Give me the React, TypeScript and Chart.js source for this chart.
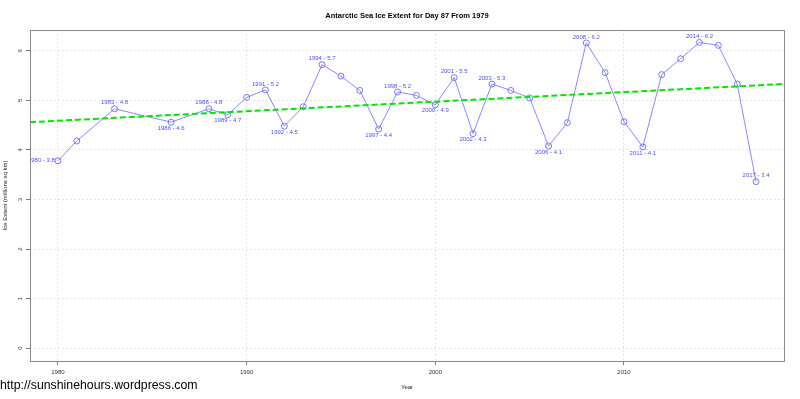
import React, { useEffect, useRef } from "react";
import { Chart, registerables } from "chart.js";

Chart.register(...registerables);

const TITLE = "Antarctic Sea Ice Extent for Day 87 From 1979";
const X_TITLE = "Year";
const Y_TITLE = "Ice Extent (millions sq km)";
const FOOTER = "http://sunshinehours.wordpress.com";

const years = [
  1980, 1981, 1983, 1986, 1988, 1989, 1990, 1991, 1992, 1993, 1994, 1995, 1996,
  1997, 1998, 1999, 2000, 2001, 2002, 2003, 2004, 2005, 2006, 2007, 2008, 2009,
  2010, 2011, 2012, 2013, 2014, 2015, 2016, 2017,
];
const extent = [
  3.78, 4.18, 4.83, 4.56, 4.83, 4.71, 5.06, 5.21, 4.48, 4.87, 5.72, 5.49, 5.2,
  4.42, 5.17, 5.1, 4.91, 5.46, 4.33, 5.33, 5.2, 5.05, 4.08, 4.55, 6.16, 5.56,
  4.57, 4.06, 5.52, 5.84, 6.17, 6.11, 5.33, 3.36,
];
const labelYears = [
  1980, 1983, 1986, 1988, 1989, 1991, 1992, 1994, 1997, 1998, 2000, 2001, 2002,
  2003, 2006, 2008, 2011, 2014, 2017,
];
const labelSides = [
  "left", "above", "below", "above", "below", "above", "below", "above", "below",
  "above", "below", "above", "below", "above", "below", "above", "below", "above", "above",
];
const xTicks = [1980, 1990, 2000, 2010];
const yTicks = [0, 1, 2, 3, 4, 5, 6];
const trendYears = [1978.52, 2018.48];
const trendValues = [4.56, 5.33];
const xMin = 1978.52;
const xMax = 2018.48;
const yMin = -0.26;
const yMax = 6.42;

const FONT = "'Liberation Sans', Arial, sans-serif";

const overlay = {
  id: "overlay",
  afterDatasetsDraw(chart: any) {
    const { ctx, chartArea } = chart;
    const xs = chart.scales.x;
    const ys = chart.scales.y;
    ctx.save();
    // box
    ctx.strokeStyle = "#8a8a8a";
    ctx.lineWidth = 1;
    ctx.strokeRect(
      Math.round(chartArea.left) + 0.5,
      Math.round(chartArea.top) + 0.5,
      Math.round(chartArea.right - chartArea.left),
      Math.round(chartArea.bottom - chartArea.top)
    );
    // data labels, clipped
    ctx.save();
    ctx.beginPath();
    ctx.rect(chartArea.left, chartArea.top, chartArea.right - chartArea.left, chartArea.bottom - chartArea.top);
    ctx.clip();
    ctx.font = `6px ${FONT}`;
    ctx.fillStyle = "#4f4fff";
    labelYears.forEach((yr, i) => {
      const idx = years.indexOf(yr);
      if (idx < 0) return;
      const v = extent[idx];
      const px = xs.getPixelForValue(yr);
      const py = ys.getPixelForValue(v);
      const text = `${yr} - ${v.toFixed(1)}`;
      const side = labelSides[i];
      ctx.textBaseline = "middle";
      if (side === "left") {
        ctx.textAlign = "right";
        ctx.fillText(text, px - 3, py);
      } else if (side === "above") {
        ctx.textAlign = "center";
        ctx.fillText(text, px, py - 6);
      } else {
        ctx.textAlign = "center";
        ctx.fillText(text, px, py + 6);
      }
    });
    ctx.restore();
    // y tick labels rotated
    ctx.fillStyle = "#333";
    ctx.font = `6px ${FONT}`;
    ys.ticks.forEach((t: any) => {
      const py = ys.getPixelForValue(t.value);
      ctx.save();
      ctx.translate(20, py);
      ctx.rotate(-Math.PI / 2);
      ctx.textAlign = "center";
      ctx.textBaseline = "middle";
      ctx.fillText(String(t.value), 0, 0);
      ctx.restore();
    });
    // y title
    ctx.save();
    ctx.translate(5, (chartArea.top + chartArea.bottom) / 2);
    ctx.rotate(-Math.PI / 2);
    ctx.textAlign = "center";
    ctx.textBaseline = "middle";
    ctx.fillStyle = "#222";
    ctx.fillText(Y_TITLE, 0, 0);
    ctx.restore();
    // x title
    ctx.textAlign = "center";
    ctx.textBaseline = "middle";
    ctx.fillStyle = "#222";
    ctx.fillText(X_TITLE, (chartArea.left + chartArea.right) / 2, 387.5);
    // title
    ctx.font = `bold 7.5px ${FONT}`;
    ctx.fillStyle = "#000";
    ctx.fillText(TITLE, (chartArea.left + chartArea.right) / 2, 16);
    // footer
    ctx.font = `12.3px ${FONT}`;
    ctx.textAlign = "left";
    ctx.textBaseline = "alphabetic";
    ctx.fillText(FOOTER, 0, 389);
    ctx.restore();
  },
};

export default function App() {
  const ref = useRef<HTMLCanvasElement | null>(null);
  useEffect(() => {
    document.body.style.margin = "0";
    const canvas = ref.current!;
    const chart = new Chart(canvas, {
      type: "line",
      data: {
        datasets: [
          {
            label: "trend",
            data: trendYears.map((x, i) => ({ x, y: trendValues[i] })),
            borderColor: "#00e600",
            borderWidth: 2,
            borderDash: [6, 3],
            pointRadius: 0,
            fill: false,
          },
          {
            label: "extent",
            data: years.map((x, i) => ({ x, y: extent[i] })),
            borderColor: "#8888ff",
            borderWidth: 1,
            pointRadius: 3,
            pointBorderColor: "#7777ff",
            pointBackgroundColor: "rgba(0,0,0,0)",
            pointBorderWidth: 1,
            fill: false,
            tension: 0,
          },
        ],
      },
      options: {
        responsive: false,
        animation: false,
        devicePixelRatio: 1,
        layout: { padding: { top: 30, right: 16, left: 0, bottom: 0 } },
        plugins: {
          legend: { display: false },
          tooltip: { enabled: false },
          title: { display: false },
        },
        scales: {
          x: {
            type: "linear",
            min: xMin,
            max: xMax,
            afterBuildTicks(s: any) {
              s.ticks = xTicks.map((v) => ({ value: v }));
            },
            ticks: {
              maxRotation: 0,
              autoSkip: false,
              color: "#333",
              font: { size: 6, family: FONT },
              padding: 4,
              callback: (v: any) => String(v),
            },
            grid: {
              color: "#e6e6e6",
              tickColor: "#777",
              tickLength: 4,
            },
            border: { display: false, dash: [2, 2] },
            afterFit(s: any) {
              s.height = 38;
            },
          },
          y: {
            type: "linear",
            min: yMin,
            max: yMax,
            afterBuildTicks(s: any) {
              s.ticks = yTicks.map((v) => ({ value: v }));
            },
            ticks: {
              autoSkip: false,
              color: "rgba(0,0,0,0)",
              font: { size: 6, family: FONT },
              callback: (v: any) => String(v),
            },
            grid: {
              color: "#e6e6e6",
              tickColor: "#777",
              tickLength: 4,
            },
            border: { display: false, dash: [2, 2] },
            afterFit(s: any) {
              s.width = 30;
            },
          },
        },
      },
      plugins: [overlay],
    });
    return () => chart.destroy();
  }, []);
  return (
    <div style={{ position: "absolute", left: 0, top: 0, width: 800, height: 399, background: "#fff" }}>
      <canvas ref={ref} width={800} height={399} style={{ width: 800, height: 399 }} />
    </div>
  );
}
